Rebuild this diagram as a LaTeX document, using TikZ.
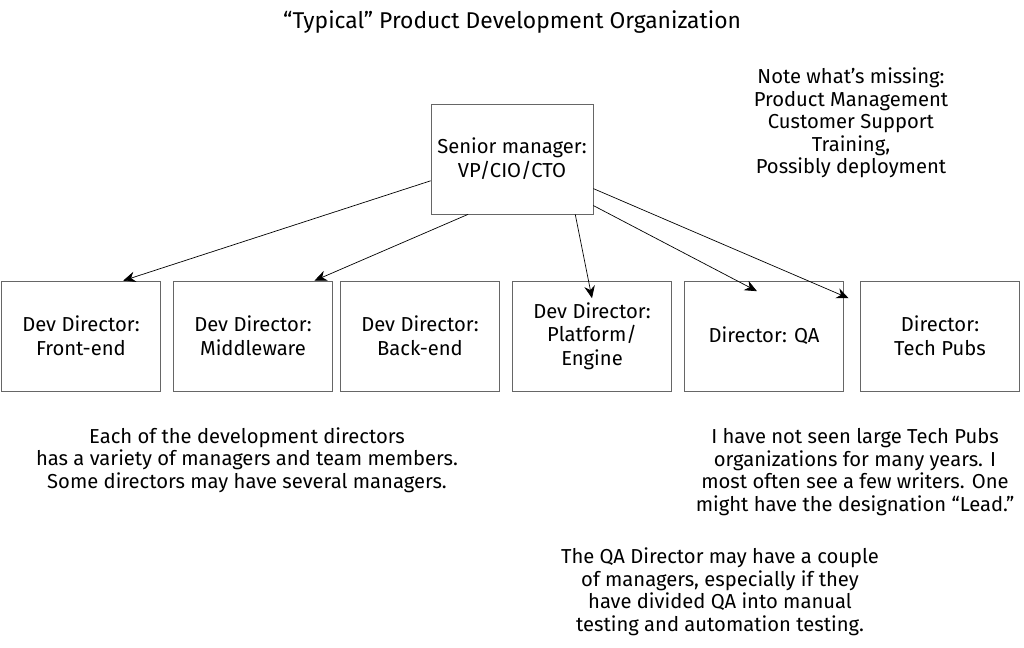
\documentclass[tikz,border=0pt]{standalone}
\usepackage{fontspec}
\setmainfont{Fira Sans}
\usetikzlibrary{arrows.meta,positioning}
\begin{document}
\begin{tikzpicture}[x=0.02cm,y=-0.02cm,
    orgbox/.style={draw=black!60, minimum width=3.18cm, minimum height=2.2cm, align=center, font=\fontsize{11.5}{13.5}\selectfont},
    note/.style={align=center, font=\fontsize{11.5}{12.8}\selectfont},
    link/.style={-{Stealth[length=7pt,width=6pt]}, thin}]
        \useasboundingbox (0,0) rectangle (1024,648);

        % Title
        \node[font=\fontsize{13}{15}\selectfont] (title) at (512,22) {``Typical'' Product Development Organization};

        % Boxes
        \node[orgbox, minimum width=3.24cm] (senior) at (512,159) {Senior manager:\\VP/CIO/CTO};
        \node[orgbox] (front) at (81,336) {Dev Director:\\Front-end};
        \node[orgbox] (middle) at (253,336) {Dev Director:\\Middleware};
        \node[orgbox] (back) at (420,336) {Dev Director:\\Back-end};
        \node[orgbox] (platform) at (592,336) {Dev Director:\\Platform/\\Engine};
        \node[orgbox] (qa) at (764,336) {Director: QA};
        \node[orgbox] (pubs) at (940,336) {Director:\\Tech Pubs};

        % Connectors
        \draw[link] (senior.195) -- ([xshift=24]front.north);
        \draw[link] ([xshift=-25]senior.south) -- ([xshift=35]middle.north);
        \draw[link] ([xshift=36]senior.south) -- ([yshift=-10]platform.north);
        \draw[link] ([yshift=5]senior.south east) -- ([xshift=-4,yshift=-6]qa.north);
        \draw[link] (senior.340) -- ([xshift=-52,yshift=-10]pubs.north);

        % Notes
        \node[note] (missing) at (851,123) {Note what's missing:\\Product Management\\Customer Support\\Training,\\Possibly deployment};
        \node[note] (devnote) at (247,460) {Each of the development directors\\has a variety of managers and team members.\\Some directors may have several managers.};
        \node[note] (pubsnote) at (855,472) {I have not seen large Tech Pubs\\organizations for many years. I\\most often see a few writers. One\\might have the designation ``Lead.''};
        \node[note] (qanote) at (720,592) {The QA Director may have a couple\\of managers, especially if they\\have divided QA into manual\\testing and automation testing.};
\end{tikzpicture}
\end{document}
